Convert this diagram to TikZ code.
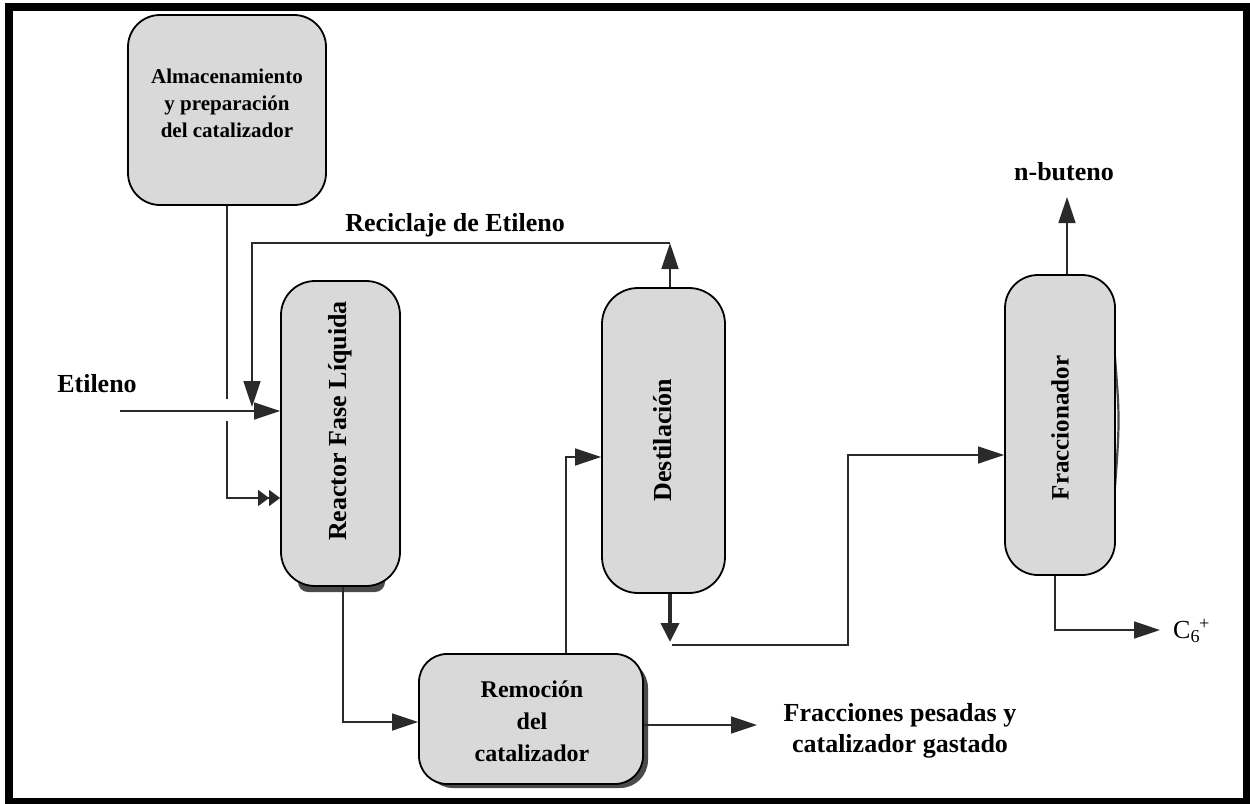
\documentclass[tikz,border=0pt]{standalone}
\usepackage{fontspec}
\setmainfont{Liberation Serif}
\usetikzlibrary{arrows.meta,calc}
\definecolor{boxfill}{HTML}{D9D9D9}
\definecolor{linegray}{HTML}{2A2A2A}
\definecolor{shadegray}{HTML}{4A4A4A}

\begin{document}
\begin{tikzpicture}[x=1pt,y=-1pt,
  procbox/.style={draw=black, line width=1.8pt, fill=boxfill, inner sep=0pt},
  conn/.style={draw=linegray, line width=1.6pt},
  flowarrow/.style={-{Triangle[length=26pt,width=17pt]}},
  dblarrow/.style={-{Triangle[length=11pt,width=16pt]Triangle[length=11pt,width=16pt]}},
  lbl/.style={font=\fontsize{26}{31}\selectfont\bfseries, inner sep=0pt},
]
\useasboundingbox (0,0) rectangle (1250,803);

% outer frame
\draw[line width=8pt] (9,6.5) rectangle (1247,802);

% dark shading behind some units
\fill[shadegray, rounded corners=10pt] (298,560) rectangle (385,592);
\fill[shadegray, rounded corners=28pt] (425,660) rectangle (648,788);
\draw[shadegray, line width=2.2pt] (1114,345) .. controls (1120,420) .. (1114,500);

% process units
\node[procbox, rounded corners=32pt, minimum width=198pt, minimum height=190pt] (alm) at (227,110) {};
\node[font=\fontsize{21}{27}\selectfont\bfseries, align=center, inner sep=0pt] (almtxt) at (227,103)
  {Almacenamiento\\y preparación\\del catalizador};

\node[procbox, rounded corners=34pt, minimum width=119pt, minimum height=305pt] (reac) at (340.5,433.5) {};
\node[lbl, rotate=90] (reactxt) at (340,421) {Reactor Fase Líquida};

\node[procbox, rounded corners=36pt, minimum width=123pt, minimum height=305pt] (dest) at (663.5,440.5) {};
\node[lbl, rotate=90] (desttxt) at (663,440) {Destilación};

\node[procbox, rounded corners=33pt, minimum width=110pt, minimum height=300pt] (frac) at (1060,425) {};
\node[font=\fontsize{25}{30}\selectfont\bfseries, inner sep=0pt, rotate=90] (fractxt) at (1060,428) {Fraccionador};

\node[procbox, rounded corners=28pt, minimum width=224pt, minimum height=130pt] (rem) at (531,719) {};
\node[font=\fontsize{24}{32}\selectfont\bfseries, align=center, inner sep=0pt] (remtxt) at (532,721)
  {Remoción\\del\\catalizador};

% stream labels
\node[lbl, anchor=base] (etlbl) at (97,392) {Etileno};
\node[lbl, anchor=base] (reclbl) at (455,231) {Reciclaje de Etileno};
\node[lbl, anchor=base] (nbutlbl) at (1064,180) {n-buteno};
\node[lbl, align=center] (heavylbl) at (900,731) {Fracciones pesadas y\\catalizador gastado};
\node[font=\fontsize{26}{30}\selectfont, inner sep=0pt, anchor=west] (c6lbl) at (1173,631)
  {C\textsubscript{6}\kern-1pt\textsuperscript{+}};

% free ends and bends
\coordinate (etin) at (120,411);
\coordinate (rectop) at (670,243);
\coordinate (recleft) at (252,243);
\coordinate (recend) at (252,407);
\coordinate (heavyend) at (757,725);
\coordinate (dbot) at (670,642);
\coordinate (nbend) at (1067,197);
\coordinate (c6end) at (1160,630);

% catalyst feed (broken where it crosses the ethylene line)
\draw[conn] (alm.south) -- (227,399);
\draw[conn, dblarrow] (227,421) -- (227,498) -- (reac.west |- 0,498);

% ethylene feed
\draw[conn, flowarrow] (etin) -- (etin -| reac.west);

% ethylene recycle
\draw[conn, flowarrow] (dest.north -| rectop) -- (rectop);
\draw[conn, flowarrow] (rectop) -- (recleft) -- (recend);

% reactor to catalyst removal
\draw[conn, flowarrow] (reac.south -| 343,0) -- (343,722) -- (rem.west |- 0,722);

% catalyst removal to distillation
\draw[conn, flowarrow] (rem.north -| 566,0) -- (566,457) -- (dest.west |- 0,457);

% heavy fractions out
\draw[conn, flowarrow] (rem.east |- heavyend) -- (heavyend);

% distillation bottoms to fractionator
\draw[linegray, line width=4pt, -{Triangle[length=19pt,width=18pt]}] (dest.south -| dbot) -- (dbot);
\draw[conn, flowarrow] (672,645) -- (848,645) -- (848,455) -- (frac.west |- 0,455);

% fractionator products
\draw[conn, flowarrow] (frac.north -| nbend) -- (nbend);
\draw[conn, flowarrow] (frac.south -| 1055,0) -- (1055,630) -- (c6end);
\end{tikzpicture}
\end{document}
